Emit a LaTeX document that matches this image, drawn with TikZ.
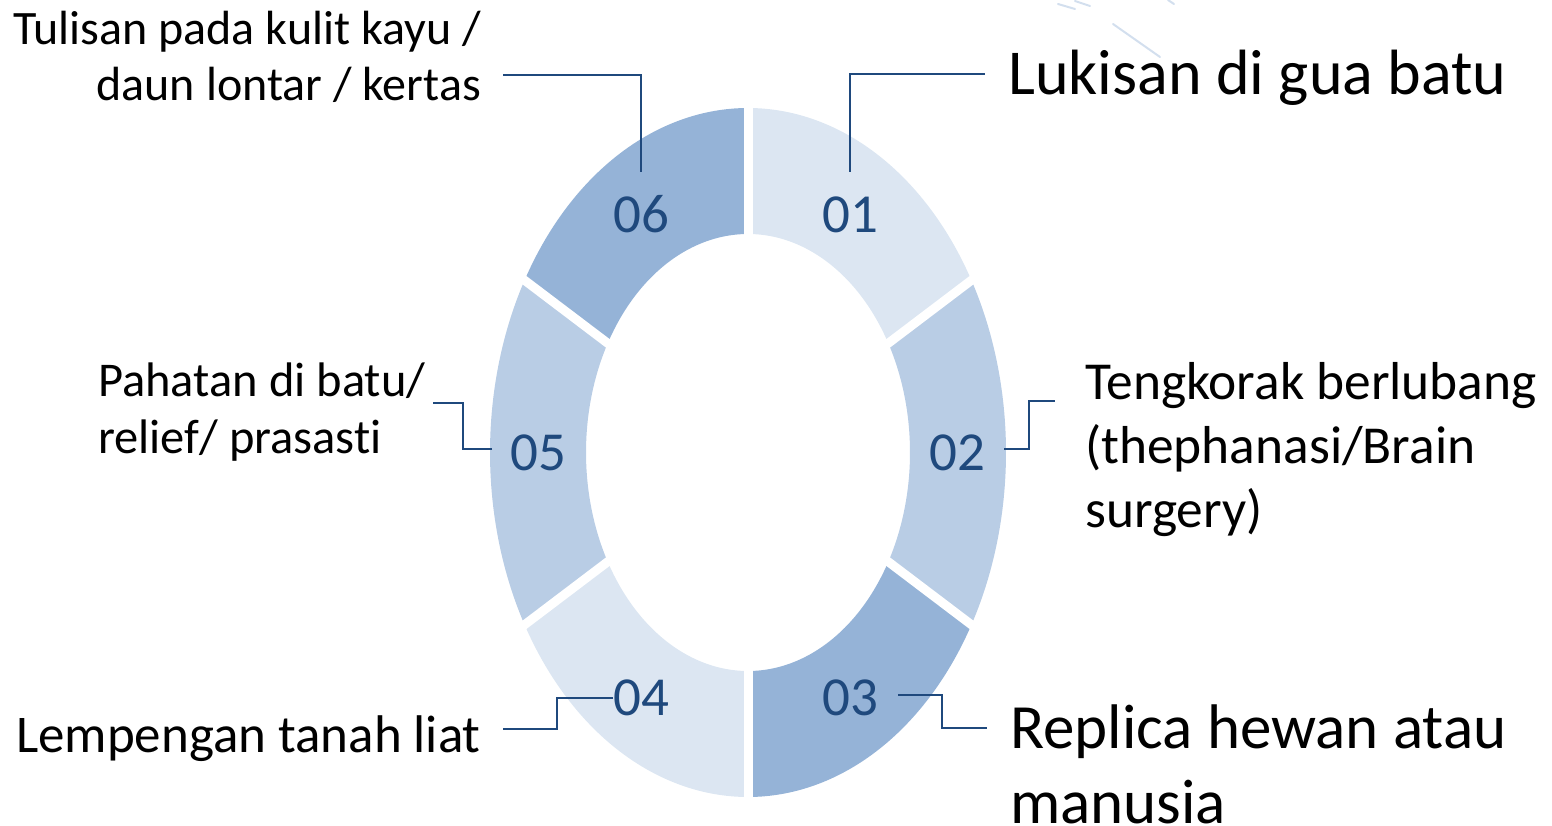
\documentclass[tikz,border=0pt]{standalone}
\usepackage{fontspec}
\setmainfont{Carlito}[Ligatures={NoCommon}]
\definecolor{segA}{HTML}{DCE6F2}
\definecolor{segB}{HTML}{B9CDE5}
\definecolor{segC}{HTML}{95B3D7}
\definecolor{ink}{HTML}{1F497D}
\definecolor{streak}{HTML}{D3DFEE}
\tikzset{
  num/.style={text=ink, font=\fontsize{55}{66}\selectfont, inner sep=0pt, anchor=base},
  lab/.style={text=black, inner sep=0pt, align=left},
  conn/.style={draw=ink, line width=1.6pt},
  gap/.style={draw=white, line width=9pt, shorten <=-6pt, shorten >=-6pt},
  faint/.style={draw=streak, line width=2pt, line cap=round},
}
\newcommand{\cx}{748}
\newcommand{\cy}{452.5}
\newcommand{\segment}[3]{%
  \fill[#3] plot[domain=#1:#2, samples=60] ({\cx+258*cos(\x)},{\cy+344.5*sin(\x)})
    -- plot[domain=#2:#1, samples=60] ({\cx+162*cos(\x)},{\cy+218.5*sin(\x)}) -- cycle;}
\begin{document}
\begin{tikzpicture}[x=1pt,y=-1pt]
\useasboundingbox (0,0) rectangle (1552,826);
% faint background streaks (top right)
\draw[faint] (1113,24) -- (1160,57);
\draw[faint] (1058,4) -- (1075,9);
\draw[faint] (1075,1) -- (1090,6);
\draw[faint] (1168,0) -- (1174,4);
% segments (y axis points down, angle 270 = top)
\segment{270}{330}{segA}
\segment{330}{390}{segB}
\segment{30}{90}{segC}
\segment{90}{150}{segA}
\segment{150}{210}{segB}
\segment{210}{270}{segC}
% white gaps
\foreach \a in {270,330,30,90,150,210}
  \draw[gap] ({\cx+162*cos(\a)},{\cy+218.5*sin(\a)}) -- ({\cx+258*cos(\a)},{\cy+344.5*sin(\a)});
% numbers
\node[num] (n1) at (850,233) {01};
\node[num] (n2) at (957,470) {02};
\node[num] (n3) at (850,715) {03};
\node[num] (n4) at (641,715) {04};
\node[num] (n5) at (538,470) {05};
\node[num] (n6) at (641,233) {06};
% labels (base anchor = baseline of last line)
\node[lab, anchor=base west, font=\fontsize{64}{75}\selectfont] (l1) at (1008,95) {Lukisan di gua batu};
\node[lab, anchor=base west, font=\fontsize{53.4}{64}\selectfont] (l2) at (1085,527) {Tengkorak berlubang\\(thephanasi/Brain\\surgery)};
\node[lab, anchor=base west, font=\fontsize{63}{75}\selectfont] (l3) at (1010,823) {Replica hewan atau\\manusia};
\node[lab, anchor=base east, font=\fontsize{53}{64}\selectfont] (l4) at (481,752) {Lempengan tanah liat};
\node[lab, anchor=base west, font=\fontsize{48.5}{57}\selectfont] (l5) at (98,453) {Pahatan di batu/\\relief/ prasasti};
\node[lab, anchor=base east, align=right, font=\fontsize{48}{56}\selectfont] (l6) at (481,101) {Tulisan pada kulit kayu /\\daun lontar / kertas};
% connector points
\coordinate (c1a) at (850,172); \coordinate (c1b) at (985,74);
\coordinate (c2a) at (1004,449); \coordinate (c2m) at (1029,425); \coordinate (c2b) at (1055,401);
\coordinate (c3a) at (898,695); \coordinate (c3m) at (942,711); \coordinate (c3b) at (987,728);
\coordinate (c4a) at (613,698); \coordinate (c4m) at (557,714); \coordinate (c4b) at (503,729);
\coordinate (c5a) at (492,449); \coordinate (c5m) at (463,426); \coordinate (c5b) at (433,403);
\coordinate (c6a) at (641,172); \coordinate (c6b) at (503,75);
\draw[conn] (c1a) |- (c1b);
\draw[conn] (c2a) -| (c2m) |- (c2b);
\draw[conn] (c3a) -| (c3m) |- (c3b);
\draw[conn] (c4a) -| (c4m) |- (c4b);
\draw[conn] (c5a) -| (c5m) |- (c5b);
\draw[conn] (c6a) |- (c6b);
\end{tikzpicture}
\end{document}
